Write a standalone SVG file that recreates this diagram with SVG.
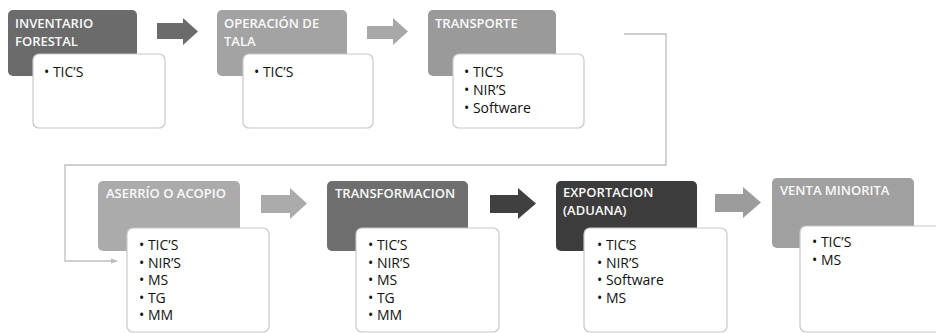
<svg xmlns="http://www.w3.org/2000/svg" width="936" height="333" viewBox="0 0 936 333">
<defs>
<style>
.hd{font-family:"Open Sans","Liberation Sans",sans-serif;font-size:13px;font-weight:600;fill:#fafafa}
.bt{font-family:"Open Sans","Liberation Sans",sans-serif;font-size:14px;fill:#111}
.wb{fill:#fff;stroke:#c8c8c8;stroke-width:1.2}
.cn{fill:none;stroke:#bdbdbd;stroke-width:1.3}
</style>
<marker id="ah" viewBox="0 0 10 10" refX="9" refY="5" markerWidth="7" markerHeight="7" orient="auto" markerUnits="userSpaceOnUse"><path d="M0,1 L10,5 L0,9 z" fill="#bdbdbd"/></marker>
</defs>
<rect width="936" height="333" fill="#fff"/>
<g id="connectors">
<polyline class="cn" points="624,34 666,34 666,165 65,165 65,261 117,261" marker-end="url(#ah)"/>
<polygon id="arrow1" points="157,23 183,23 183,18 198,31.5 183,45 183,39 157,39" fill="#6b6b6b"/>
<polygon id="arrow2" points="367,26 393,26 393,18 408,31.5 393,45 393,39 367,39" fill="#a8a8a8"/>
<polygon id="arrow3" points="261,195 290,195 290,188 307,203.5 290,219 290,213 261,213" fill="#ababab"/>
<polygon id="arrow4" points="490,195 518,195 518,188 536,203.5 518,219 518,213 490,213" fill="#404040"/>
<polygon id="arrow5" points="715,194 743,194 743,187 761,202.5 743,218 743,212 715,212" fill="#9c9c9c"/>
</g>
<g id="n1">
<rect x="8" y="10" width="129" height="66" rx="5" fill="#6b6b6b"/>
<text class="hd" x="15" y="28">INVENTARIO</text>
<text class="hd" x="15" y="45.5">FORESTAL</text>
<rect class="wb" x="33" y="54" width="132" height="74" rx="6"/>
<text class="bt" x="44" y="77">• TIC’S</text>
</g>
<g id="n2">
<rect x="217" y="10" width="130" height="66" rx="5" fill="#a3a3a3"/>
<text class="hd" x="224" y="28">OPERACIÓN DE</text>
<text class="hd" x="224" y="45.5">TALA</text>
<rect class="wb" x="243" y="54" width="130" height="74" rx="6"/>
<text class="bt" x="254" y="77">• TIC’S</text>
</g>
<g id="n3">
<rect x="428" y="10" width="128" height="66" rx="5" fill="#9a9a9a"/>
<text class="hd" x="435" y="28">TRANSPORTE</text>
<rect class="wb" x="453" y="54" width="131" height="74" rx="6"/>
<text class="bt" x="464" y="77">• TIC’S</text>
<text class="bt" x="464" y="95">• NIR’S</text>
<text class="bt" x="464" y="113">• Software</text>
</g>
<g id="n4">
<rect x="98" y="181" width="142" height="70" rx="5" fill="#ababab"/>
<text class="hd" x="106" y="198">ASERRÍO O ACOPIO</text>
<rect class="wb" x="127" y="228" width="142" height="104" rx="6"/>
<text class="bt" x="139" y="250">• TIC’S</text>
<text class="bt" x="139" y="267.5">• NIR’S</text>
<text class="bt" x="139" y="285">• MS</text>
<text class="bt" x="139" y="302.5">• TG</text>
<text class="bt" x="139" y="320">• MM</text>
</g>
<g id="n5">
<rect x="327" y="181" width="141" height="70" rx="5" fill="#6e6e6e"/>
<text class="hd" x="335" y="198">TRANSFORMACION</text>
<rect class="wb" x="356" y="228" width="143" height="104" rx="6"/>
<text class="bt" x="368" y="250">• TIC’S</text>
<text class="bt" x="368" y="267.5">• NIR’S</text>
<text class="bt" x="368" y="285">• MS</text>
<text class="bt" x="368" y="302.5">• TG</text>
<text class="bt" x="368" y="320">• MM</text>
</g>
<g id="n6">
<rect x="556" y="181" width="141" height="70" rx="5" fill="#3c3c3c"/>
<text class="hd" x="563" y="197">EXPORTACION</text>
<text class="hd" x="563" y="214.5">(ADUANA)</text>
<rect class="wb" x="584" y="228" width="143" height="104" rx="6"/>
<text class="bt" x="597" y="250">• TIC’S</text>
<text class="bt" x="597" y="267.5">• NIR’S</text>
<text class="bt" x="597" y="285">• Software</text>
<text class="bt" x="597" y="302.5">• MS</text>
</g>
<g id="n7">
<rect x="772" y="178" width="142" height="70" rx="5" fill="#a0a0a0"/>
<text class="hd" x="780" y="195">VENTA MINORITA</text>
<rect class="wb" x="800" y="226" width="142" height="106" rx="6"/>
<text class="bt" x="812" y="247">• TIC’S</text>
<text class="bt" x="812" y="264.5">• MS</text>
</g>
</svg>
